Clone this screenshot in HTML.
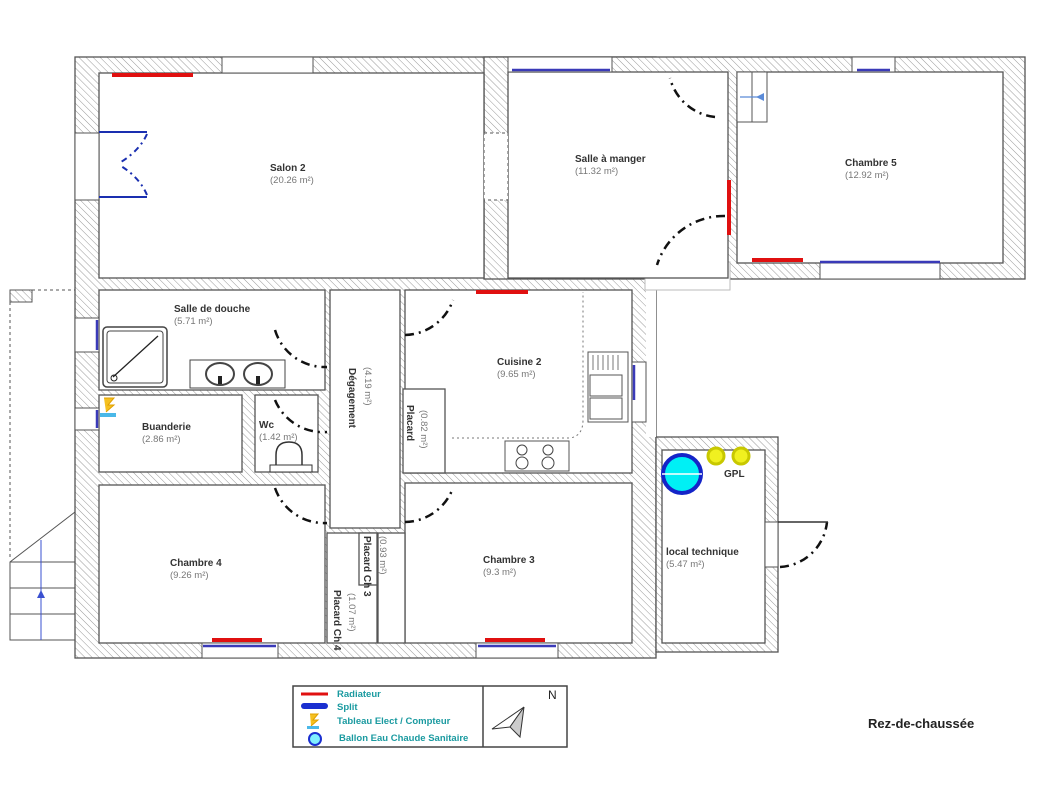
<!DOCTYPE html>
<html><head><meta charset="utf-8"><style>
html,body{margin:0;padding:0;background:#fff;}
svg{display:block;}
text{font-family:"Liberation Sans",sans-serif;}
.n{font-size:10px;font-weight:bold;fill:#333;}
.a{font-size:9.5px;fill:#777;}
.d{fill:none;stroke:#111;stroke-width:2.5;stroke-dasharray:9 5 2 5;}
.r{stroke:#e01010;stroke-width:4;}
.s{stroke:#3a3ab8;stroke-width:2.5;}
.rm{fill:#fff;stroke:#555;stroke-width:1.3;}
</style></head><body>
<svg width="1060" height="788" viewBox="0 0 1060 788" xmlns="http://www.w3.org/2000/svg">
<defs>
<pattern id="h" patternUnits="userSpaceOnUse" width="5" height="5" patternTransform="rotate(-45)">
<rect width="5" height="5" fill="#fff"/><line x1="0" y1="0" x2="0" y2="5" stroke="#999" stroke-width="1"/>
</pattern>
</defs>
<rect x="75" y="57" width="581" height="601" fill="url(#h)" stroke="#555" stroke-width="1.3"/>
<rect x="484" y="57" width="541" height="222" fill="url(#h)" stroke="#555" stroke-width="1.3"/>
<rect x="656" y="437" width="122" height="215" fill="url(#h)" stroke="#555" stroke-width="1.3"/>
<rect x="646" y="280" width="10" height="157" fill="#fff"/>
<rect x="645" y="262" width="85" height="28" fill="#fff" stroke="#bbb" stroke-width="1"/>
<rect class="rm" x="99" y="73" width="385" height="205"/>
<rect class="rm" x="508" y="72" width="220" height="206"/>
<rect class="rm" x="737" y="72" width="266" height="191"/>
<rect class="rm" x="99" y="290" width="226" height="100"/>
<rect class="rm" x="99" y="395" width="143" height="77"/>
<rect class="rm" x="255" y="395" width="63" height="77"/>
<rect class="rm" x="330" y="290" width="70" height="238"/>
<rect class="rm" x="405" y="290" width="227" height="183"/>
<rect class="rm" x="99" y="485" width="226" height="158"/>
<rect class="rm" x="405" y="483" width="227" height="160"/>
<rect class="rm" x="327" y="533" width="50" height="110"/>
<rect class="rm" x="359" y="533" width="18" height="52"/>
<rect class="rm" x="378" y="533" width="27" height="110"/>
<rect class="rm" x="403" y="389" width="42" height="84"/>
<rect class="rm" x="662" y="450" width="103" height="193"/>
<g fill="#fff" stroke="#555" stroke-width="1">
<rect x="222" y="57" width="91" height="16"/>
<rect x="508" y="57" width="104" height="15"/>
<rect x="852" y="57" width="43" height="15"/>
<rect x="75" y="133" width="24" height="67"/>
<rect x="484" y="133" width="24" height="67" stroke-dasharray="3 3"/>
<rect x="75" y="318" width="24" height="34"/>
<rect x="75" y="408" width="24" height="22"/>
<rect x="820" y="263" width="120" height="16"/>
<rect x="202" y="643" width="76" height="15"/>
<rect x="476" y="643" width="82" height="15"/>
<rect x="632" y="362" width="14" height="60"/>
<rect x="765" y="522" width="13" height="45"/>
<rect x="737" y="72" width="30" height="50"/>
</g>
<line x1="752" y1="72" x2="752" y2="122" stroke="#555"/>
<line x1="740" y1="97" x2="764" y2="97" stroke="#5b8bd8" stroke-width="1.2"/>
<polygon points="756,97 764,93 764,101" fill="#5b8bd8"/>
<line class="r" x1="112" y1="75" x2="193" y2="75"/>
<line class="r" x1="729" y1="180" x2="729" y2="235"/>
<line class="r" x1="752" y1="260" x2="803" y2="260"/>
<line class="r" x1="476" y1="292" x2="528" y2="292"/>
<line class="r" x1="212" y1="640" x2="262" y2="640"/>
<line class="r" x1="485" y1="640" x2="545" y2="640"/>
<line class="s" x1="512" y1="70" x2="610" y2="70"/>
<line class="s" x1="857" y1="70" x2="890" y2="70"/>
<line class="s" x1="820" y1="262" x2="940" y2="262" stroke-width="2"/>
<line class="s" x1="203" y1="646" x2="276" y2="646" stroke="#8a8ad0"/>
<line class="s" x1="478" y1="646" x2="556" y2="646" stroke="#8a8ad0"/>
<line class="s" x1="97" y1="320" x2="97" y2="350" stroke-width="1.5"/>
<line class="s" x1="97" y1="410" x2="97" y2="428" stroke-width="1.5"/>
<line class="s" x1="634" y1="365" x2="634" y2="400" stroke-width="1.5"/>
<g stroke="#1a2fb0" stroke-width="2" fill="none">
<line x1="99" y1="132" x2="147" y2="132"/><line x1="99" y1="197" x2="147" y2="197"/>
<path d="M147 134 Q140 150 121 162" stroke-dasharray="6 4 2 4"/>
<path d="M147 195 Q140 178 121 166" stroke-dasharray="6 4 2 4"/>
</g>
<path class="d" d="M715 117 A52 52 0 0 1 670 78"/>
<path class="d" d="M725 216 A70 70 0 0 0 657 265"/>
<path class="d" d="M275 330 A52 52 0 0 0 327 367"/>
<path class="d" d="M275 400 A52 52 0 0 0 327 432"/>
<path class="d" d="M405 335 A52 52 0 0 0 453 300"/>
<path class="d" d="M275 488 A52 52 0 0 0 327 523"/>
<path class="d" d="M405 522 A52 52 0 0 0 453 488"/>
<path class="d" d="M780 567 A50 50 0 0 0 827 522"/>
<line x1="778" y1="522" x2="828" y2="522" stroke="#333" stroke-width="1.5"/>
<rect x="103" y="327" width="64" height="60" rx="4" fill="#fff" stroke="#444" stroke-width="1.5"/>
<rect x="107" y="331" width="56" height="52" rx="3" fill="none" stroke="#444"/>
<line x1="113" y1="377" x2="158" y2="336" stroke="#222" stroke-width="1.3"/>
<circle cx="114" cy="378" r="3" fill="none" stroke="#222"/>
<rect x="190" y="360" width="95" height="28" fill="#fff" stroke="#444"/>
<ellipse cx="220" cy="374" rx="14" ry="11" fill="none" stroke="#444" stroke-width="2"/>
<ellipse cx="258" cy="374" rx="14" ry="11" fill="none" stroke="#444" stroke-width="2"/>
<rect x="218" y="376" width="4" height="8" fill="#222"/><rect x="256" y="376" width="4" height="8" fill="#222"/>
<path d="M276 470 L276 455 Q276 442 289 442 Q302 442 302 455 L302 470 Z" fill="#fff" stroke="#333" stroke-width="1.5"/>
<rect x="270" y="465" width="42" height="7" fill="#fff" stroke="#333"/>
<rect x="588" y="352" width="40" height="70" fill="#fff" stroke="#555"/>
<g stroke="#777"><line x1="593" y1="355" x2="593" y2="370"/><line x1="598" y1="355" x2="598" y2="370"/><line x1="603" y1="355" x2="603" y2="370"/><line x1="608" y1="355" x2="608" y2="370"/><line x1="613" y1="355" x2="613" y2="370"/><line x1="618" y1="355" x2="618" y2="370"/></g>
<rect x="590" y="375" width="32" height="21" fill="none" stroke="#555"/>
<rect x="590" y="398" width="32" height="21" fill="none" stroke="#555"/>
<rect x="505" y="441" width="64" height="30" fill="#fff" stroke="#555"/>
<g fill="none" stroke="#444"><circle cx="522" cy="450" r="5"/><circle cx="548" cy="450" r="5"/><circle cx="522" cy="463" r="6"/><circle cx="548" cy="463" r="6"/></g>
<path d="M452 438 L570 438 Q583 436 583 420 L583 292" fill="none" stroke="#777" stroke-dasharray="2 3"/>
<circle cx="682" cy="474" r="19" fill="#00f0f5" stroke="#1424c8" stroke-width="4"/>
<line x1="662" y1="474" x2="702" y2="474" stroke="#fff" stroke-width="1.5"/>
<circle cx="716" cy="456" r="8" fill="#f0f020" stroke="#c8c800" stroke-width="3"/>
<circle cx="741" cy="456" r="8" fill="#f0f020" stroke="#c8c800" stroke-width="3"/>
<path d="M104 398 L114 398 L108 405 L114 405 L106 412" fill="#f5c020" stroke="#e0a000"/>
<rect x="100" y="413" width="16" height="4" fill="#4ab8e8"/>
<rect x="10" y="290" width="22" height="12" fill="url(#h)" stroke="#555"/>
<line x1="32" y1="290" x2="75" y2="290" stroke="#555" stroke-dasharray="3 3"/>
<line x1="10" y1="302" x2="10" y2="560" stroke="#555" stroke-dasharray="3 3"/>
<g stroke="#555" fill="none">
<path d="M75 512 L10 562 L10 640 L75 640"/>
<line x1="10" y1="562" x2="75" y2="562"/><line x1="10" y1="588" x2="75" y2="588"/><line x1="10" y1="614" x2="75" y2="614"/>
</g>
<line x1="41" y1="540" x2="41" y2="640" stroke="#3a50d0"/>
<polygon points="41,590 37,598 45,598" fill="#3a50d0"/>
<text class="n" x="270" y="171">Salon 2</text><text class="a" x="270" y="183">(20.26 m²)</text>
<text class="n" x="575" y="162">Salle à manger</text><text class="a" x="575" y="174">(11.32 m²)</text>
<text class="n" x="845" y="166">Chambre 5</text><text class="a" x="845" y="178">(12.92 m²)</text>
<text class="n" x="174" y="312">Salle de douche</text><text class="a" x="174" y="324">(5.71 m²)</text>
<text class="n" x="497" y="365">Cuisine 2</text><text class="a" x="497" y="377">(9.65 m²)</text>
<text class="n" x="142" y="430">Buanderie</text><text class="a" x="142" y="442">(2.86 m²)</text>
<text class="n" x="259" y="428">Wc</text><text class="a" x="259" y="440">(1.42 m²)</text>
<text class="n" x="170" y="566">Chambre 4</text><text class="a" x="170" y="578">(9.26 m²)</text>
<text class="n" x="483" y="563">Chambre 3</text><text class="a" x="483" y="575">(9.3 m²)</text>
<text class="n" x="666" y="555">local technique</text><text class="a" x="666" y="567">(5.47 m²)</text>
<text class="n" x="724" y="477">GPL</text>
<text class="n" transform="translate(349,368) rotate(90)" font-size="9">Dégagement</text>
<text class="a" transform="translate(365,367) rotate(90)" font-size="9">(4.19 m²)</text>
<text class="n" transform="translate(407,405) rotate(90)" font-size="9">Placard</text>
<text class="a" transform="translate(421,410) rotate(90)" font-size="9">(0.82 m²)</text>
<text class="n" transform="translate(364,536) rotate(90)" font-size="9">Placard Ch 3</text>
<text class="a" transform="translate(380,536) rotate(90)" font-size="9">(0.93 m²)</text>
<text class="n" transform="translate(334,590) rotate(90)" font-size="9">Placard Ch 4</text>
<text class="a" transform="translate(349,593) rotate(90)" font-size="9">(1.07 m²)</text>
<rect x="293" y="686" width="274" height="61" fill="#fff" stroke="#444" stroke-width="1.5"/>
<line x1="483" y1="686" x2="483" y2="747" stroke="#444" stroke-width="1.5"/>
<line x1="301" y1="694" x2="328" y2="694" stroke="#e01010" stroke-width="3"/>
<rect x="301" y="703" width="27" height="6" rx="3" fill="#1a2fd0"/>
<path d="M310 714 L318 714 L313 720 L318 720 L311 726" fill="#f5c020" stroke="#e0a000"/>
<rect x="307" y="726" width="12" height="3" fill="#4ab8e8"/>
<circle cx="315" cy="739" r="6" fill="#80f0ff" stroke="#1a2fd0" stroke-width="2"/>
<g font-size="9.5" font-weight="bold" fill="#1a9aa0">
<text x="337" y="697">Radiateur</text><text x="337" y="710">Split</text>
<text x="337" y="724">Tableau Elect / Compteur</text><text x="339" y="741">Ballon Eau Chaude Sanitaire</text>
</g>
<text x="548" y="699" font-size="12" fill="#222">N</text>
<polygon points="524,707 492,729 510,727" fill="#fff" stroke="#333"/>
<polygon points="524,707 510,727 520,737" fill="#ccc" stroke="#333"/>
<text x="868" y="728" font-size="13" font-weight="bold" fill="#222">Rez-de-chaussée</text>
</svg>
</body></html>
